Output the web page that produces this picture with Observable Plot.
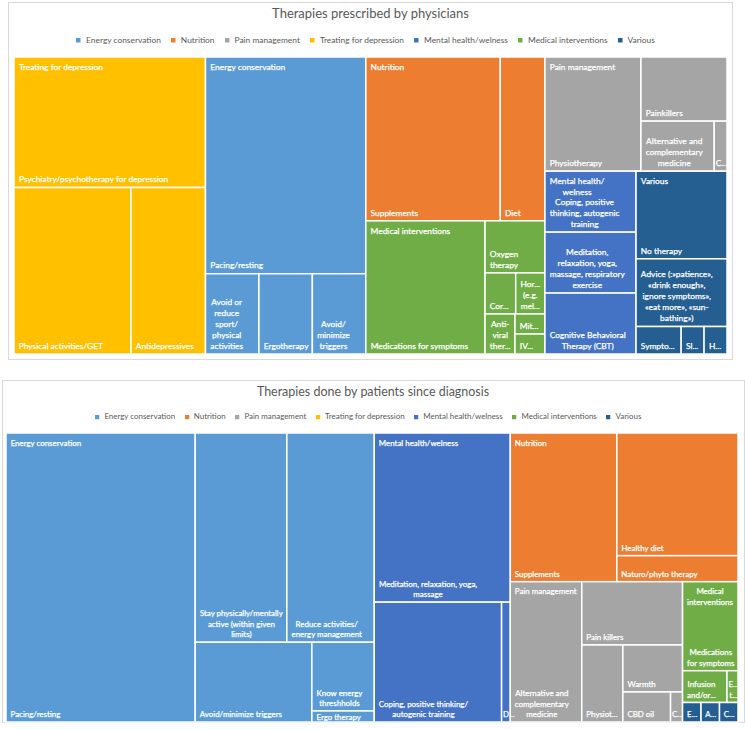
<!DOCTYPE html>
<html>
<head>
<meta charset="utf-8">
<script src="https://cdn.jsdelivr.net/npm/d3@7"></script>
<script src="https://cdn.jsdelivr.net/npm/@observablehq/plot@0.6"></script>
<style>
  body { margin: 0; background: #fff; }
  #page { position: relative; width: 745px; height: 729px; overflow: hidden; font-family: Lato, sans-serif; }
  .panel { position: absolute; border: 1px solid #d9d9d9; box-sizing: border-box; }
  .title { position: absolute; text-align: center; color: #595959; white-space: nowrap; line-height: 1; }
  .legendbox { position: absolute; }
  .lgA-swatch { margin-right: 10px !important; }
  .lgA-swatch > svg { margin-right: 5.5px !important; }
  .lgB-swatch { margin-right: 9.5px !important; }
  .lgB-swatch > svg { margin-right: 5px !important; }
</style>
</head>
<body>
<div id="page"></div>
<script>
// ---------------- data ----------------
const categories = ["Energy conservation", "Nutrition", "Pain management", "Treating for depression",
  "Mental health/welness", "Medical interventions", "Various"];
const palette = ["#5B9BD5", "#ED7D31", "#A5A5A5", "#FFC000", "#4472C4", "#70AD47", "#255E91"];

// Therapies prescribed by physicians
const prescribedGroup = [
  "Treating for depression", "Treating for depression", "Treating for depression",
  "Energy conservation", "Energy conservation", "Energy conservation", "Energy conservation",
  "Nutrition", "Nutrition",
  "Medical interventions", "Medical interventions", "Medical interventions", "Medical interventions",
  "Medical interventions", "Medical interventions", "Medical interventions",
  "Pain management", "Pain management", "Pain management", "Pain management",
  "Mental health/welness", "Mental health/welness", "Mental health/welness",
  "Various", "Various", "Various", "Various", "Various"];
const prescribedTherapy = [
  "Psychiatry/psychotherapy for depression", "Physical activities/GET", "Antidepressives",
  "Pacing/resting", "Avoid or reduce sport/physical activities", "Ergotherapy", "Avoid/minimize triggers",
  "Supplements", "Diet",
  "Medications for symptoms", "Oxygen therapy", "Cor...", "Hor... (e.g. mel...", "Anti-viral ther...", "Mit...", "IV...",
  "Physiotherapy", "Painkillers", "Alternative and complementary medicine", "C...",
  "Coping, positive thinking, autogenic training",
  "Meditation, relaxation, yoga, massage, respiratory exercise",
  "Cognitive Behavioral Therapy (CBT)",
  "No therapy", "Advice (:»patience», «drink enough», ignore symptoms», «eat more», «sun-bathing»)",
  "Sympto...", "Sl...", "H..."];
const prescribedValue = [
  2499, 1948, 1240,
  3475, 429, 429, 429,
  2203, 732,
  1588, 312, 126, 120, 120, 60, 60,
  1096, 552, 367, 64,
  555, 555, 555,
  797, 616, 124, 63, 63];

// Therapies done by patients since diagnosis
const patientGroup = [
  "Energy conservation", "Energy conservation", "Energy conservation", "Energy conservation",
  "Energy conservation", "Energy conservation",
  "Mental health/welness", "Mental health/welness", "Mental health/welness",
  "Nutrition", "Nutrition", "Nutrition",
  "Pain management", "Pain management", "Pain management", "Pain management", "Pain management", "Pain management",
  "Medical interventions", "Medical interventions", "Medical interventions",
  "Various", "Various", "Various"];
const patientTherapy = [
  "Pacing/resting", "Stay physically/mentally active (within given limits)", "Reduce activities/energy management",
  "Avoid/minimize triggers", "Know energy threshholds", "Ergo therapy",
  "Meditation, relaxation, yoga, massage", "Coping, positive thinking/autogenic training", "D...",
  "Supplements", "Healthy diet", "Naturo/phyto therapy",
  "Alternative and complementary medicine", "Pain killers", "Physiot...", "Warmth", "CBD oil", "C...",
  "Medications for symptoms", "Infusion and/or...", "E... t...",
  "E...", "A...", "C..."];
const patientValue = [
  5462, 1915, 1827, 929, 428, 69,
  2298, 1524, 104,
  1582, 1485, 315,
  1002, 637, 316, 280, 143, 36,
  493, 141, 35,
  36, 36, 36];

// ---------------- helpers ----------------
const FONT = "Lato";
const ctx = document.createElement("canvas").getContext("2d");
function tw(s, size) { ctx.font = `${size}px ${FONT}`; return ctx.measureText(s).width; }
// width used for line-breaking (spaces and commas a little wider, as in the original face)
function fitWidth(s, size) {
  const spaces = (s.match(/ /g) || []).length, commas = (s.match(/,/g) || []).length;
  return tw(s, size) + spaces * 0.035 * size + commas * 0.06 * size;
}
const baseFS = 225 * 100 / (tw("Psychiatry/psychotherapy for depression", 100) + tw("Energy conservation", 100));

function tokens(label) {
  const out = [];
  label.split(" ").forEach((word, i) => {
    word.split(/(?<=[\/-])(?=[^\/-])/).forEach((p, j) => out.push({p, sp: i > 0 && j === 0}));
  });
  return out;
}
function wrap(label, avail, fs) {
  const lines = []; let cur = null;
  for (const {p, sp} of tokens(label)) {
    if (cur === null) { cur = p; continue; }
    const cand = cur + (sp ? " " : "") + p;
    if (fitWidth(cand, fs) <= avail) cur = cand; else { lines.push(cur); cur = p; }
  }
  if (cur !== null) lines.push(cur);
  return lines;
}

// Squarified tiling with a fixed preferred cell shape (slightly taller than wide)
const PREF = 0.815;
function excelTile(parent, x0, y0, x1, y1) {
  const nodes = parent.children, n = nodes.length;
  let value = parent.value, i = 0;
  while (i < n) {
    const dx = x1 - x0, dy = y1 - y0, across = dx < dy;
    const cost = (j) => {
      let s = 0; for (let k = i; k < j; k++) s += nodes[k].value;
      let worst = 0;
      for (let k = i; k < j; k++) {
        const v = nodes[k].value;
        const w = across ? dx * v / s : dx * s / value;
        const h = across ? dy * s / value : dy * v / s;
        worst = Math.max(worst, Math.abs(Math.log(w / h / PREF)));
      }
      return [worst, s];
    };
    let j = i + 1;
    let [best, sum] = cost(j);
    while (j < n) {
      const [c, s] = cost(j + 1);
      if (c > best) break;
      best = c; sum = s; j++;
    }
    const row = {value: sum, children: nodes.slice(i, j)};
    if (across) {
      const yk = value ? y0 + dy * sum / value : y1;
      d3.treemapDice(row, x0, y0, x1, yk); y0 = yk;
    } else {
      const xk = value ? x0 + dx * sum / value : x1;
      d3.treemapSlice(row, x0, y0, xk, y1); x0 = xk;
    }
    value -= sum; i = j;
  }
}

const page = document.getElementById("page");

function drawChart(cfg) {
  const {X0, Y0, W, H, sc} = cfg;
  const fs = baseFS * sc;
  const LH = 11 * sc, padMax = 4.3 * sc, leafBase = 5.8 * sc, headBase = 12.8 * sc, slack = cfg.slack;

  // panel
  const panel = document.createElement("div");
  panel.className = "panel";
  Object.assign(panel.style, {left: cfg.panel[0] + "px", top: cfg.panel[1] + "px",
    width: cfg.panel[2] + "px", height: cfg.panel[3] + "px"});
  page.appendChild(panel);

  // title
  const tfs = cfg.titleWidth * 100 / tw(cfg.title, 100);
  const title = document.createElement("div");
  title.className = "title";
  title.textContent = cfg.title;
  Object.assign(title.style, {left: cfg.panel[0] + "px", width: cfg.panel[2] + "px",
    fontSize: tfs + "px", top: (cfg.titleBase - 0.887 * tfs) + "px"});
  page.appendChild(title);

  // legend
  const lfs = cfg.legendWidth * 100 / tw("Energy conservation", 100);
  const legend = Plot.legend({
    color: {type: "categorical", domain: categories, range: palette},
    swatchSize: 4.5 * sc,
    className: cfg.cls,
    style: `font-family:${FONT};font-size:${lfs}px;color:#595959;margin:0;min-height:0;line-height:1;justify-content:center;width:100%;`
  });
  const lbox = document.createElement("div");
  lbox.className = "legendbox";
  Object.assign(lbox.style, {left: cfg.panel[0] + "px", width: cfg.panel[2] + "px",
    top: (cfg.legendBase - 0.887 * lfs) + "px"});
  lbox.appendChild(legend);
  page.appendChild(lbox);

  // treemap layout
  const data = cfg.group.map((g, i) => ({group: g, therapy: cfg.therapy[i], value: cfg.value[i]}));
  const root = d3.hierarchy({children: categories
      .map(c => ({name: c, children: data.filter(d => d.group === c)}))
      .filter(c => c.children.length)})
    .sum(d => d.value)
    .sort((a, b) => b.value - a.value);
  d3.treemap().tile(excelTile).size([W, H]).round(false)(root);

  const cells = root.leaves().map(nd => ({group: nd.data.group, therapy: nd.data.therapy,
    x0: nd.x0, x1: nd.x1, y0: nd.y0, y1: nd.y1}));

  const lines = [];
  for (const c of cells) {
    const w = c.x1 - c.x0, h = c.y1 - c.y0;
    const ls = wrap(c.therapy, w - slack, fs);
    const mw = d3.max(ls, s => tw(s, fs));
    const pad = Math.max(1, Math.min(padMax, (w - mw) / 2));
    const cx = c.x0 + pad + mw / 2;
    const lastBase = h < 16 ? (c.y0 + c.y1) / 2 + 0.35 * fs : c.y1 - leafBase;
    ls.forEach((s, k) => lines.push({x: cx, y: lastBase - (ls.length - 1 - k) * LH - 0.32 * fs, s}));
  }
  for (const g of root.children) {
    const w = g.x1 - g.x0, h = g.y1 - g.y0;
    if (h < 30) continue;
    const ls = wrap(g.data.name, w - slack, fs);
    const mw = d3.max(ls, s => tw(s, fs));
    const pad = Math.max(1, Math.min(padMax, (w - mw) / 2));
    const cx = g.x0 + pad + mw / 2;
    ls.forEach((s, k) => lines.push({x: cx, y: g.y0 + headBase + k * LH - 0.32 * fs, s}));
  }

  const top = 5;
  const svg = Plot.plot({
    width: 745,
    height: H + 10,
    margin: 0,
    x: {domain: [0, W], range: [X0, X0 + W], axis: null},
    y: {domain: [0, H], range: [top, top + H], axis: null},
    color: {domain: categories, range: palette},
    style: {background: "transparent", overflow: "visible"},
    marks: [
      Plot.rect(cells, {x1: "x0", x2: "x1", y1: "y0", y2: "y1", fill: "group", stroke: "white", strokeWidth: 1.5}),
      Plot.text(lines, {x: "x", y: "y", text: "s", textAnchor: "middle", fill: "white",
        stroke: "white", strokeWidth: 0.25, fontSize: fs, fontFamily: FONT})
    ]
  });
  svg.style.position = "absolute";
  svg.style.left = "0px";
  svg.style.top = (Y0 - top) + "px";
  page.appendChild(svg);
}

drawChart({
  title: "Therapies prescribed by physicians", titleWidth: 197.3, titleBase: 19,
  legendWidth: 75, legendBase: 43.6, cls: "lgA", slack: 9.5,
  panel: [8, 1.5, 725, 358.5],
  X0: 14, Y0: 57, W: 713, H: 297, sc: 1,
  group: prescribedGroup, therapy: prescribedTherapy, value: prescribedValue
});
drawChart({
  title: "Therapies done by patients since diagnosis", titleWidth: 232.8, titleBase: 397.3,
  legendWidth: 71, legendBase: 420, cls: "lgB", slack: 7.1,
  panel: [1.5, 380, 743, 343],
  X0: 6, Y0: 432.6, W: 732, H: 289, sc: 0.945,
  group: patientGroup, therapy: patientTherapy, value: patientValue
});
</script>
</body>
</html>
